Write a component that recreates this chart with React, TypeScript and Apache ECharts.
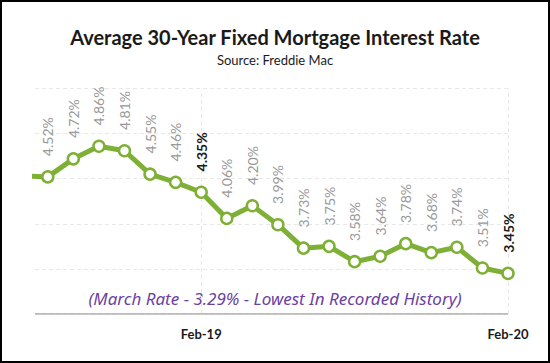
import React, { useEffect, useRef } from "react";
import * as echarts from "echarts";

const months = ["Jul-18","Aug-18","Sep-18","Oct-18","Nov-18","Dec-18","Jan-19","Feb-19","Mar-19","Apr-19","May-19","Jun-19","Jul-19","Aug-19","Sep-19","Oct-19","Nov-19","Dec-19","Jan-20","Feb-20"];
const rates = [4.53, 4.52, 4.72, 4.86, 4.81, 4.55, 4.46, 4.35, 4.06, 4.20, 3.99, 3.73, 3.75, 3.58, 3.64, 3.78, 3.68, 3.74, 3.51, 3.45];
const highlighted = ["Feb-19", "Feb-20"];
const axisLabels = ["Feb-19", "Feb-20"];
const titleText = "Average 30-Year Fixed Mortgage Interest Rate";
const subtitleText = "Source: Freddie Mac";
const noteText = "(March Rate - 3.29% - Lowest In Recorded History)";

export default function App() {
  const ref = useRef<HTMLDivElement>(null);
  useEffect(() => {
    if (!ref.current) return;
    const chart = echarts.init(ref.current, null, { renderer: "svg" });
    const green = "#7db035";
    const idx = (m: string) => months.indexOf(m) - 1;
    const data = rates.map((v, i) => {
      const x = i - 1;
      const bold = highlighted.includes(months[i]);
      return {
        value: [x, v],
        label: i === 0
          ? { show: false }
          : bold
          ? { color: "#1a1a1a", fontWeight: "bold" }
          : {},
      };
    });
    chart.setOption({
      animation: false,
      title: {
        text: titleText,
        subtext: subtitleText,
        left: "center",
        top: 22,
        itemGap: 6,
        textStyle: { fontFamily: "Lato", fontWeight: "bold", fontSize: 20, color: "#1a1a1a" },
        subtextStyle: { fontFamily: "Lato", fontSize: 13, color: "#1a1a1a" },
      },
      grid: { left: 35, right: 42, top: 88.5, bottom: 49, containLabel: false },
      xAxis: {
        type: "value",
        min: -0.5,
        max: 18,
        splitLine: { show: false },
        axisLine: { show: false },
        axisTick: { show: false },
        axisLabel: {
          customValues: axisLabels.map(idx),
          formatter: (v: number) => months[Math.round(v) + 1],
          fontFamily: "Lato",
          fontWeight: "bold",
          fontSize: 13,
          color: "#1a1a1a",
          margin: 13,
        },
      },
      yAxis: {
        type: "value",
        min: 3,
        max: 5.5,
        interval: 0.5,
        axisLabel: { show: false },
        axisTick: { show: false },
        axisLine: { show: false },
        splitLine: { show: true, lineStyle: { color: "#e8e8e8", type: [4, 3], width: 1 } },
      },
      series: [
        {
          type: "line",
          data,
          clip: true,
          symbol: "circle",
          symbolSize: 11,
          lineStyle: { color: green, width: 5 },
          itemStyle: { color: "#ffffff", borderColor: green, borderWidth: 2.5 },
          label: {
            show: true,
            position: "top",
            rotate: 90,
            align: "left",
            verticalAlign: "middle",
            distance: 14,
            fontFamily: "Lato",
            fontSize: 14,
            color: "#999999",
            formatter: (p: any) => p.value[1].toFixed(2) + "%",
          },
          markLine: {
            silent: true,
            symbol: "none",
            label: { show: false },
            lineStyle: { color: "#e8e8e8", type: [4, 3], width: 1 },
            data: axisLabels.map((m) => ({ xAxis: idx(m) })),
            z: 0,
          },
          z: 3,
        },
        {
          type: "line",
          data: [[-0.5, 3], [18, 3]],
          symbol: "none",
          silent: true,
          lineStyle: { color: "#a6a6a6", width: 1.5 },
          z: 2,
        },
      ],
      graphic: [
        {
          type: "text",
          left: "center",
          top: 290,
          style: {
            text: noteText,
            fontFamily: "Noto Sans",
            fontStyle: "italic",
            fontSize: 17,
            fill: "#6c3fa3",
          },
        },
      ],
    });
    return () => chart.dispose();
  }, []);
  return (
    <div
      style={{
        position: "absolute",
        left: 0,
        top: 0,
        width: 550,
        height: 363,
        boxSizing: "border-box",
        border: "2px solid #000",
        background: "#fff",
      }}
    >
      <div ref={ref} style={{ position: "absolute", left: -2, top: -2, width: 550, height: 363 }} />
    </div>
  );
}
